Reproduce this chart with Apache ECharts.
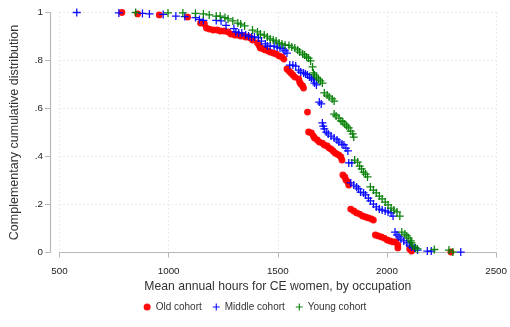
<!DOCTYPE html>
<html><head><meta charset="utf-8">
<script src="https://cdn.jsdelivr.net/npm/echarts@6/dist/echarts.min.js"></script>
<style>html,body{margin:0;padding:0;background:#fff}#c{width:510px;height:327px}</style>
</head><body><div id="c"></div>
<script>
const seriesNames = ['Old cohort', 'Middle cohort', 'Young cohort'];
const xTicks = [500, 1000, 1500, 2000, 2500];
const yTickLabels = ['0', '.2', '.4', '.6', '.8', '1'];

const oldX = [786,858,957,1087,1146,1164,1173,1186,1204,1222,1236,1254,1272,1285,1303,1317,1330,1344,1353,1366,1375,1384,1407,1416,1420,1434,1443,1456,1465,1479,1492,1506,1519,1528,1542,1551,1560,1569,1578,1596,1600,1605,1614,1618,1636,1641,1654,1663,1668,1681,1690,1704,1713,1726,1735,1744,1753,1762,1771,1780,1789,1794,1798,1807,1812,1821,1825,1834,1848,1861,1875,1888,1902,1915,1929,1938,1947,1960,1974,1987,2001,2014,2028,2041,2050,2050,2104,2113,2293];
const oldY = [1.0,.994,.99,.981,.956,.952,.935,.931,.927,.927,.923,.923,.919,.910,.906,.906,.902,.902,.898,.898,.894,.885,.873,.860,.852,.848,.844,.840,.835,.831,.827,.819,.815,.806,.765,.756,.748,.740,.731,.723,.710,.702,.694,.685,.585,.502,.498,.485,.477,.469,.460,.456,.448,.444,.435,.431,.423,.415,.410,.406,.398,.385,.323,.315,.302,.294,.281,.181,.173,.165,.160,.152,.148,.144,.140,.135,.073,.069,.065,.060,.052,.048,.044,.044,.031,.019,.015,.006,.002];

const midX = [579,772,880,912,975,1033,1074,1123,1141,1159,1218,1240,1263,1299,1308,1321,1335,1353,1366,1380,1393,1411,1425,1443,1452,1465,1483,1497,1510,1524,1533,1542,1555,1569,1582,1596,1605,1618,1627,1636,1645,1654,1663,1668,1677,1690,1699,1704,1708,1713,1722,1731,1744,1758,1771,1780,1794,1803,1812,1821,1825,1839,1834,1848,1861,1870,1879,1893,1902,1915,1924,1938,1951,1965,1978,1992,2005,2019,2028,2037,2046,2055,2064,2077,2091,2104,2113,2127,2140,2185,2203,2338];
const midY = [1.0,.998,.996,.994,.992,.985,.983,.979,.971,.967,.967,.965,.946,.933,.919,.915,.915,.906,.902,.898,.898,.894,.881,.869,.860,.860,.860,.856,.852,.848,.840,.831,.781,.781,.777,.760,.752,.748,.744,.740,.731,.727,.719,.706,.698,.627,.619,.540,.527,.515,.502,.494,.485,.477,.469,.460,.452,.448,.435,.423,.373,.373,.290,.281,.273,.265,.252,.248,.240,.227,.215,.202,.190,.181,.177,.173,.169,.165,.152,.085,.073,.065,.056,.048,.040,.031,.023,.019,.010,.006,.006,.002];

const youngX = [849,997,1065,1123,1159,1186,1218,1236,1258,1272,1294,1317,1330,1348,1384,1407,1420,1438,1452,1465,1479,1492,1506,1519,1533,1551,1564,1578,1591,1600,1614,1623,1632,1641,1650,1659,1663,1668,1677,1686,1695,1704,1713,1726,1735,1749,1758,1758,1767,1780,1789,1798,1807,1816,1825,1834,1843,1848,1852,1866,1875,1884,1893,1902,1911,1924,1938,1951,1965,1978,1992,2005,2019,2032,2046,2059,2068,2082,2091,2100,2109,2113,2118,2131,2140,2217,2284,2302];
const youngY = [1.0,.998,.998,.996,.994,.990,.985,.985,.979,.973,.965,.956,.952,.944,.927,.919,.910,.906,.898,.890,.885,.881,.873,.869,.865,.863,.856,.852,.844,.835,.827,.823,.815,.810,.798,.773,.748,.740,.731,.723,.715,.706,.665,.656,.648,.640,.631,.577,.569,.560,.548,.544,.535,.527,.519,.506,.494,.481,.385,.377,.360,.348,.335,.327,.315,.273,.260,.248,.235,.223,.210,.198,.185,.177,.169,.152,.085,.077,.069,.060,.048,.040,.027,.019,.015,.0125,.010,.002];

const zip = (xs, ys) => xs.map((x, i) => [x, ys[i]]);
const PLUS = 'path://M-0.16,-1 L0.16,-1 L0.16,-0.16 L1,-0.16 L1,0.16 L0.16,0.16 L0.16,1 L-0.16,1 L-0.16,0.16 L-1,0.16 L-1,-0.16 L-0.16,-0.16 Z';
const FONT = 'Liberation Sans';
const axisGray = '#b8b8b8';
const gridGray = '#d9d9d9';

const chart = echarts.init(document.getElementById('c'), null, {renderer: 'canvas'});
chart.setOption({
  animation: false,
  backgroundColor: '#fff',
  grid: {left: 53.5, right: 12.5, top: 12.5, bottom: 74.5, containLabel: false},
  xAxis: {
    type: 'value', min: 500, max: 2500, interval: 500, offset: 6.5,
    name: 'Mean annual hours for CE women, by occupation',
    nameLocation: 'middle', nameGap: 21,
    nameTextStyle: {fontFamily: FONT, fontSize: 12.2, color: '#333'},
    axisLine: {show: true, lineStyle: {color: axisGray, width: 1.2}},
    axisTick: {show: true, length: 5, lineStyle: {color: axisGray}},
    axisLabel: {fontFamily: FONT, fontSize: 9.8, color: '#222', margin: 7,
      formatter: v => String(xTicks[xTicks.indexOf(v)])},
    splitLine: {show: true, lineStyle: {color: gridGray, type: [1, 3], width: 1}}
  },
  yAxis: {
    type: 'value', min: 0, max: 1, interval: 0.2, offset: 9.5,
    name: 'Complementary cumulative distribution',
    nameLocation: 'middle', nameGap: 29, nameRotate: 90,
    nameTextStyle: {fontFamily: FONT, fontSize: 12.5, color: '#333'},
    axisLine: {show: true, lineStyle: {color: axisGray, width: 1.2}},
    axisTick: {show: true, length: 5, lineStyle: {color: axisGray}},
    axisLabel: {fontFamily: FONT, fontSize: 9.8, color: '#222', margin: 7,
      formatter: v => yTickLabels[Math.round(v * 5)]},
    splitLine: {show: true, lineStyle: {color: gridGray, type: [1, 3], width: 1}}
  },
  legend: {
    top: 297, left: 'center', itemWidth: 7, itemHeight: 7, itemGap: 11,
    textStyle: {fontFamily: FONT, fontSize: 10, color: '#333'},
    data: [
      {name: seriesNames[0], icon: 'circle'},
      {name: seriesNames[1], icon: PLUS},
      {name: seriesNames[2], icon: PLUS}
    ]
  },
  series: [
    {name: seriesNames[0], type: 'scatter', data: zip(oldX, oldY), symbol: 'circle', symbolSize: 6.8,
      itemStyle: {color: '#ff0000', opacity: 0.95}, z: 2},
    {name: seriesNames[1], type: 'scatter', data: zip(midX, midY), symbol: PLUS, symbolSize: 8,
      itemStyle: {color: '#0000ff', opacity: 0.95}, z: 3},
    {name: seriesNames[2], type: 'scatter', data: zip(youngX, youngY), symbol: PLUS, symbolSize: 8,
      itemStyle: {color: '#007d00', opacity: 0.95}, z: 4}
  ]
});
</script></body></html>
